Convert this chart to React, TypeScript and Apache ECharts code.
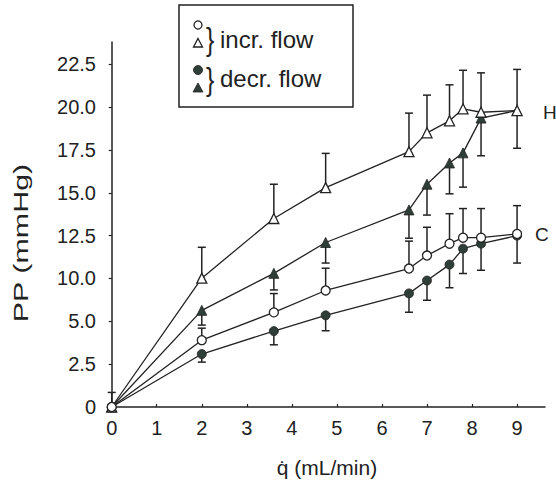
import React, { useEffect, useRef } from "react";
import * as echarts from "echarts";

// flow rate q (mL/min)
const flow = [0, 2, 3.6, 4.75, 6.6, 7.0, 7.5, 7.8, 8.2, 9.0];
// H, increasing flow (open triangles), error upward
const hIncr = [0, 7.52, 11.0, 12.8, 14.9, 16.0, 16.7, 17.4, 17.2, 17.3];
const hIncrSd = [0, 1.8, 2.0, 2.0, 2.25, 2.2, 2.1, 2.25, 2.3, 2.4];
// H, decreasing flow (filled triangles), error downward
const hDecr = [0, 5.64, 7.8, 9.6, 11.5, 13.0, 14.24, 14.83, 16.86, 17.3];
const hDecrSd = [0, 0.86, 0.97, 1.2, 1.65, 1.8, 1.8, 2.0, 2.2, 2.2];
// C, increasing flow (open circles), error upward
const cIncr = [0, 3.9, 5.52, 6.8, 8.08, 8.84, 9.53, 9.88, 9.88, 10.1];
const cIncrSd = [0.85, 0.7, 1.1, 1.3, 1.6, 1.65, 1.75, 1.7, 1.7, 1.65];
// C, decreasing flow (filled circles), error downward
const cDecr = [0, 3.09, 4.43, 5.35, 6.63, 7.38, 8.31, 9.24, 9.53, 10.0];
const cDecrSd = [0, 0.47, 0.8, 0.9, 1.1, 1.15, 1.35, 1.45, 1.55, 1.6];

const xTickValues = [0, 1, 2, 3, 4, 5, 6, 7, 8, 9];
const yTickValues = [0, 2.5, 5, 7.5, 10, 12.5, 15, 17.5, 20];
const yTickLabels = ["0", "2.5", "5.0", "10.0", "12.5", "15.0", "17.5", "20.0", "22.5"];

const FONT = "Liberation Sans, Arial, Helvetica, sans-serif";
const INK = "#222222";
const FILL = "#2f3e37";

function pairs(ys: number[]) {
  return flow.map((x, i) => [x, ys[i]]);
}
function errData(ys: number[], sd: number[], dir: number) {
  return flow
    .map((x, i) => [x, ys[i], ys[i] + dir * sd[i]])
    .filter((d) => d[2] !== d[1]);
}

const errRender = (params: any, api: any) => {
  const x = api.value(0);
  const p0 = api.coord([x, api.value(1)]);
  const p1 = api.coord([x, api.value(2)]);
  const hw = 4;
  const style = { stroke: INK, lineWidth: 1.5 };
  return {
    type: "group",
    children: [
      { type: "line", shape: { x1: p0[0], y1: p0[1], x2: p1[0], y2: p1[1] }, style },
      { type: "line", shape: { x1: p1[0] - hw, y1: p1[1], x2: p1[0] + hw, y2: p1[1] }, style },
    ],
  };
};

function errSeries(name: string, data: number[][]) {
  return {
    name,
    type: "custom",
    renderItem: errRender,
    data,
    encode: { x: 0, y: [1, 2] },
    z: 1,
    clip: false,
  };
}

function lineSeries(name: string, ys: number[], symbol: string, filled: boolean, size: number) {
  return {
    name,
    type: "line",
    data: pairs(ys),
    symbol,
    symbolSize: size,
    showAllSymbol: true,
    clip: false,
    z: 3,
    lineStyle: { color: INK, width: 1.3 },
    itemStyle: filled
      ? { color: FILL, borderColor: INK, borderWidth: 0.8 }
      : { color: "#ffffff", borderColor: INK, borderWidth: 1.3 },
  };
}

export default function App() {
  const ref = useRef<HTMLDivElement>(null);
  useEffect(() => {
    if (!ref.current) return;
    const chart = echarts.init(ref.current, undefined, { renderer: "svg" });
    const option: any = {
      animation: false,
      backgroundColor: "#ffffff",
      textStyle: { fontFamily: FONT },
      grid: { left: 109, right: 11, top: 42, bottom: 77, containLabel: false },
      xAxis: {
        type: "value",
        min: -0.06,
        max: 9.62,
        name: "q\u0307 (mL/min)",
        nameLocation: "middle",
        nameGap: 50,
        nameTextStyle: { fontSize: 21, color: INK, fontFamily: FONT },
        axisLine: { show: true, lineStyle: { color: INK, width: 1.5 } },
        axisTick: { show: true, inside: true, length: 3, customValues: xTickValues, lineStyle: { color: INK, width: 1.2 } },
        axisLabel: { show: true, customValues: xTickValues, fontSize: 20, color: INK, margin: 11, fontFamily: FONT },
        splitLine: { show: false },
      },
      yAxis: {
        type: "value",
        min: 0,
        max: 21.3,
        axisLine: { show: true, lineStyle: { color: INK, width: 1.5 } },
        axisTick: { show: true, inside: false, length: 3, customValues: yTickValues, lineStyle: { color: INK, width: 1.2 } },
        axisLabel: {
          show: true,
          customValues: yTickValues,
          fontSize: 20,
          color: INK,
          margin: 13,
          fontFamily: FONT,
          formatter: (v: number) => {
            const i = yTickValues.findIndex((t) => Math.abs(t - v) < 1e-6);
            return i >= 0 ? yTickLabels[i] : "";
          },
        },
        splitLine: { show: false },
      },
      series: [
        errSeries("H incr err", errData(hIncr, hIncrSd, 1)),
        errSeries("H decr err", errData(hDecr, hDecrSd, -1)),
        errSeries("C incr err", errData(cIncr, cIncrSd, 1)),
        errSeries("C decr err", errData(cDecr, cDecrSd, -1)),
        lineSeries("H decr. flow", hDecr, "triangle", true, 10),
        lineSeries("H incr. flow", hIncr, "triangle", false, 10),
        lineSeries("C decr. flow", cDecr, "circle", true, 9),
        lineSeries("C incr. flow", cIncr, "circle", false, 9),
      ],
      graphic: [
        {
          type: "text",
          x: 21,
          y: 243,
          rotation: Math.PI / 2,
          scaleX: 1.45,
          style: { text: "PP (mmHg)", fontSize: 21, fontFamily: FONT, fill: INK, align: "center", verticalAlign: "middle" },
        },
        { type: "rect", shape: { x: 179, y: 5, width: 174, height: 102 }, style: { fill: "none", stroke: INK, lineWidth: 1.5 } },
        { type: "circle", shape: { cx: 198, cy: 25, r: 4 }, style: { fill: "#fff", stroke: INK, lineWidth: 1.3 } },
        { type: "polygon", shape: { points: [[198, 38.5], [202.5, 47], [193.5, 47]] }, style: { fill: "#fff", stroke: INK, lineWidth: 1.3 } },
        { type: "text", x: 206, y: 40, scaleX: 0.8, style: { text: "}", fontSize: 31, fontFamily: FONT, fill: INK, verticalAlign: "middle" } },
        { type: "text", x: 220, y: 39.5, style: { text: "incr. flow", fontSize: 24, fontFamily: FONT, fill: INK, verticalAlign: "middle" } },
        { type: "circle", shape: { cx: 198, cy: 70, r: 4.5 }, style: { fill: FILL, stroke: INK, lineWidth: 0.8 } },
        { type: "polygon", shape: { points: [[198, 83], [203, 92], [193, 92]] }, style: { fill: FILL, stroke: INK, lineWidth: 0.8 } },
        { type: "text", x: 206, y: 80, scaleX: 0.8, style: { text: "}", fontSize: 31, fontFamily: FONT, fill: INK, verticalAlign: "middle" } },
        { type: "text", x: 220, y: 78.5, style: { text: "decr. flow", fontSize: 24, fontFamily: FONT, fill: INK, verticalAlign: "middle" } },
        { type: "text", x: 543, y: 112, style: { text: "H", fontSize: 19, fontFamily: FONT, fill: INK, verticalAlign: "middle" } },
        { type: "text", x: 535, y: 234, style: { text: "C", fontSize: 19, fontFamily: FONT, fill: INK, verticalAlign: "middle" } },
      ],
    };
    chart.setOption(option);
    return () => chart.dispose();
  }, []);
  return (
    <div
      ref={ref}
      style={{ position: "fixed", left: 0, top: 0, width: 556, height: 484, background: "#fff" }}
    />
  );
}
